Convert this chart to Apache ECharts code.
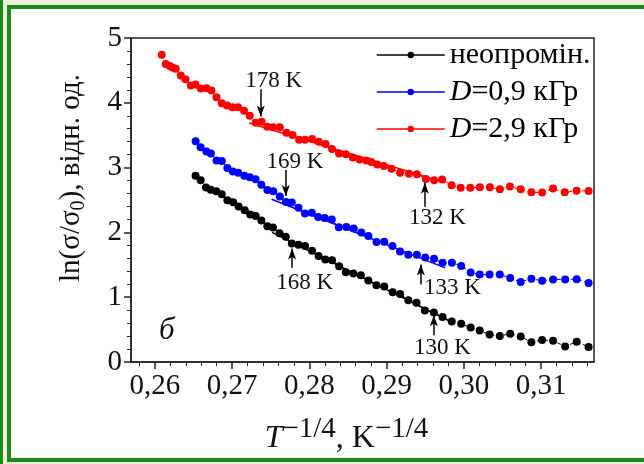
<!DOCTYPE html>
<html><head><meta charset="utf-8">
<script src="https://cdn.jsdelivr.net/npm/echarts@6/dist/echarts.min.js"></script>
<style>html,body{margin:0;padding:0;background:#fff}#c{width:644px;height:464px}</style>
</head><body><div id="c"></div>
<script>
// ---- data ----
const seriesNames = ['неопромін.', 'D=0,9 кГр', 'D=2,9 кГр'];
const blackX = [0.26526,0.26592,0.26661,0.26723,0.26794,0.26865,0.26938,0.27012,0.27083,0.27162,0.27234,0.27304,0.27378,0.27455,0.27528,0.27613,0.27694,0.27772,0.27859,0.27943,0.28034,0.28119,0.28206,0.28293,0.28385,0.28472,0.28569,0.28666,0.28763,0.28868,0.28969,0.29078,0.29174,0.29281,0.29387,0.29495,0.29611,0.29724,0.29843,0.29965,0.30088,0.30205,0.30333,0.30465,0.30600,0.30736,0.30874,0.31013,0.31155,0.31312,0.31461,0.31615];
const blackY = [2.875,2.805,2.692,2.658,2.635,2.589,2.496,2.464,2.399,2.342,2.278,2.252,2.182,2.093,2.077,1.985,1.932,1.830,1.811,1.791,1.716,1.637,1.583,1.569,1.479,1.386,1.366,1.340,1.258,1.185,1.164,1.077,1.051,0.954,0.915,0.796,0.764,0.696,0.624,0.590,0.532,0.487,0.423,0.402,0.436,0.394,0.304,0.340,0.328,0.240,0.312,0.232];
const blueX = [0.26527,0.26591,0.26666,0.26724,0.26798,0.26865,0.26938,0.27008,0.27079,0.27157,0.27228,0.27303,0.27378,0.27456,0.27532,0.27617,0.27696,0.27772,0.27859,0.27943,0.28031,0.28113,0.28197,0.28290,0.28381,0.28478,0.28573,0.28672,0.28764,0.28869,0.28969,0.29075,0.29174,0.29281,0.29391,0.29500,0.29614,0.29724,0.29845,0.29965,0.30088,0.30205,0.30333,0.30465,0.30600,0.30736,0.30874,0.31013,0.31155,0.31312,0.31461,0.31615];
const blueY = [3.408,3.315,3.249,3.218,3.110,3.102,2.994,2.940,2.921,2.875,2.852,2.821,2.736,2.654,2.635,2.553,2.468,2.461,2.380,2.291,2.303,2.236,2.221,2.198,2.079,2.082,2.062,2.000,1.946,1.850,1.855,1.791,1.706,1.655,1.655,1.614,1.595,1.530,1.533,1.482,1.383,1.351,1.351,1.351,1.298,1.236,1.286,1.252,1.274,1.274,1.278,1.219];
const redX = [0.26088,0.26140,0.26192,0.26227,0.26269,0.26334,0.26395,0.26464,0.26525,0.26593,0.26667,0.26732,0.26797,0.26865,0.26934,0.27004,0.27076,0.27154,0.27228,0.27306,0.27380,0.27457,0.27530,0.27617,0.27703,0.27781,0.27867,0.27944,0.28035,0.28122,0.28209,0.28293,0.28383,0.28472,0.28562,0.28650,0.28737,0.28802,0.28877,0.28964,0.29063,0.29175,0.29288,0.29391,0.29508,0.29615,0.29719,0.29841,0.29959,0.30084,0.30207,0.30337,0.30466,0.30596,0.30736,0.30874,0.31013,0.31155,0.31306,0.31459,0.31615];
const redY = [4.740,4.597,4.566,4.544,4.524,4.420,4.365,4.266,4.281,4.219,4.226,4.189,4.087,3.994,3.957,3.932,3.932,3.879,3.802,3.694,3.709,3.632,3.623,3.623,3.539,3.504,3.431,3.431,3.442,3.400,3.365,3.287,3.218,3.207,3.156,3.125,3.110,3.087,3.048,3.025,2.983,2.921,2.906,2.896,2.824,2.804,2.816,2.728,2.689,2.689,2.697,2.695,2.666,2.708,2.666,2.620,2.615,2.677,2.618,2.641,2.638];
// linear fit segments [x1,x2], [y1,y2]
const blackFitX = [0.27517, 0.29845], blackFitY = [2.000, 0.614];
const blueFitX = [0.27511, 0.29759], blueFitY = [2.512, 1.453];
const redFitX = [0.27219, 0.29762], redFitY = [3.689, 2.767];
// annotations: label, arrow x, arrow y from, arrow y to (head), label x, label y
const annLabels = ['178 K', '169 K', '168 K', '133 K', '132 K', '130 K'];
const annArrowX = [0.27370, 0.27694, 0.27776, 0.29443, 0.29495, 0.29611];
const annArrowY0 = [4.210, 2.963, 1.453, 1.196, 2.396, 0.413];
const annArrowY1 = [3.787, 2.561, 1.753, 1.505, 2.767, 0.722];
const annTextX = [0.27539, 0.27811, 0.27940, 0.29851, 0.29657, 0.29722];
const annTextY = [4.334, 3.087, 1.216, 1.139, 2.221, 0.219];
const panelLabel = 'б', panelX = 0.26153, panelY = 0.474;
const xMajorTicks = [0.26, 0.27, 0.28, 0.29, 0.30, 0.31];
const xMinorTicks = [0.258,0.262,0.264,0.266,0.268,0.272,0.274,0.276,0.278,0.282,0.284,0.286,0.288,0.292,0.294,0.296,0.298,0.302,0.304,0.306,0.308,0.312,0.314,0.316];

// ---- chart ----
const FF = "'Liberation Serif','DejaVu Serif',serif";
const zip = (xs, ys) => xs.map((x, i) => [x, ys[i]]);
const chart = echarts.init(document.getElementById('c'), null, {renderer: 'canvas'});
const mk = (name, xs, ys, color) => ({
  name, type: 'line', data: zip(xs, ys), symbol: 'circle', symbolSize: 8,
  itemStyle: {color}, lineStyle: {color, width: 1, type: [4, 3]},
  emphasis: {disabled: true}, z: 3
});
const fit = (xs, ys, color) => ({
  name: 'fit', type: 'line', data: zip(xs, ys), symbol: 'none',
  lineStyle: {color, width: 1.5, type: 'solid'}, emphasis: {disabled: true}, z: 4
});
const blackSeries = mk(seriesNames[0], blackX, blackY, '#000000');
blackSeries.markLine = {
  silent: true, symbol: ['none', 'arrow'], symbolSize: [6, 11],
  label: {show: false}, lineStyle: {color: '#000', width: 1.5, type: 'solid'},
  data: annArrowX.map((x, i) => [{coord: [x, annArrowY0[i]]}, {coord: [x, annArrowY1[i]]}])
};
blackSeries.markPoint = {
  silent: true, symbol: 'rect', symbolSize: 1, itemStyle: {color: 'rgba(0,0,0,0)'},
  label: {show: true, position: 'inside', color: '#111', fontFamily: FF, fontSize: 23, formatter: p => p.name},
  data: annLabels.map((t, i) => ({name: t, coord: [annTextX[i], annTextY[i]]}))
    .concat([{name: panelLabel, coord: [panelX, panelY], label: {fontStyle: 'italic', fontSize: 31}}])
};
const option = {
  animation: false,
  backgroundColor: '#eef2d8',
  graphic: [
    {type: 'rect', z: -100, shape: {x: 9, y: 7, width: 640, height: 453}, style: {fill: '#ffffff', stroke: '#1c8a1c', lineWidth: 4}},
    {type: 'rect', z: -100, shape: {x: 0, y: 0, width: 3, height: 464}, style: {fill: '#1c8a1c'}}
  ],
  grid: {left: 131, right: 50, top: 38, bottom: 102, show: true, borderColor: '#222', borderWidth: 1.5, backgroundColor: 'rgba(0,0,0,0)'},
  legend: {
    data: seriesNames, orient: 'vertical', left: 371, top: 34, itemWidth: 68, itemHeight: 8, itemGap: 5,
    align: 'left', selectedMode: false,
    lineStyle: {type: 'solid', width: 1.5},
    textStyle: {fontFamily: FF, fontSize: 30, color: '#000', lineHeight: 32,
      rich: {i: {fontFamily: FF, fontSize: 30, fontStyle: 'italic', color: '#000'}}},
    formatter: n => n.startsWith('D=') ? '{i|D}' + n.slice(1) : n
  },
  xAxis: [{
    type: 'value', min: 0.2569, max: 0.31685,
    axisLine: {show: true, lineStyle: {color: '#222', width: 1.5}},
    axisTick: {show: true, customValues: xMajorTicks, length: 7, inside: false, lineStyle: {color: '#222', width: 1.5}},
    axisLabel: {customValues: xMajorTicks, margin: 10, fontFamily: FF, fontSize: 29, color: '#111',
      formatter: v => v.toFixed(2).replace('.', ',')},
    splitLine: {show: false},
    name: '{t|T}{s|−1/4}{a|, K}{s|−1/4}', nameLocation: 'middle', nameGap: 53,
    nameTextStyle: {padding: [0, 32, 0, 0], rich: {
      t: {fontFamily: FF, fontSize: 32, fontStyle: 'italic', color: '#111', lineHeight: 34, padding: [8, 0, 0, 0], verticalAlign: 'top'},
      a: {fontFamily: FF, fontSize: 32, color: '#111', lineHeight: 34, padding: [8, 0, 0, 0], verticalAlign: 'top'},
      s: {fontFamily: FF, fontSize: 29, color: '#111', lineHeight: 32, verticalAlign: 'top'}
    }}
  }, {
    type: 'value', min: 0.2569, max: 0.31685, position: 'bottom',
    axisLine: {show: false},
    axisTick: {show: true, customValues: xMinorTicks, length: 4, lineStyle: {color: '#222', width: 1}},
    axisLabel: {show: false}, splitLine: {show: false}
  }],
  yAxis: {
    type: 'value', min: 0, max: 5, interval: 1,
    axisLine: {show: true, lineStyle: {color: '#222', width: 1.5}},
    axisTick: {show: true, length: 7, lineStyle: {color: '#222', width: 1.5}},
    minorTick: {show: true, splitNumber: 5, length: 4, lineStyle: {color: '#222', width: 1}},
    axisLabel: {margin: 9, fontFamily: FF, fontSize: 29, color: '#111'},
    splitLine: {show: false}, minorSplitLine: {show: false},
    name: '{a|ln(σ/σ}{s|0}{a|), відн. од.}', nameLocation: 'middle', nameRotate: 90, nameGap: 42,
    nameTextStyle: {padding: [0, 0, 0, 44], rich: {
      a: {fontFamily: FF, fontSize: 29, color: '#111', lineHeight: 32, verticalAlign: 'top'},
      s: {fontFamily: FF, fontSize: 20, color: '#111', lineHeight: 21, padding: [12, 0, 0, 0], verticalAlign: 'top'}
    }}
  },
  series: [
    blackSeries,
    mk(seriesNames[1], blueX, blueY, '#0000ff'),
    mk(seriesNames[2], redX, redY, '#ff0000'),
    fit(blackFitX, blackFitY, '#000000'),
    fit(blueFitX, blueFitY, '#0000ff'),
    fit(redFitX, redFitY, '#ff0000')
  ]
};
chart.setOption(option);
</script></body></html>
